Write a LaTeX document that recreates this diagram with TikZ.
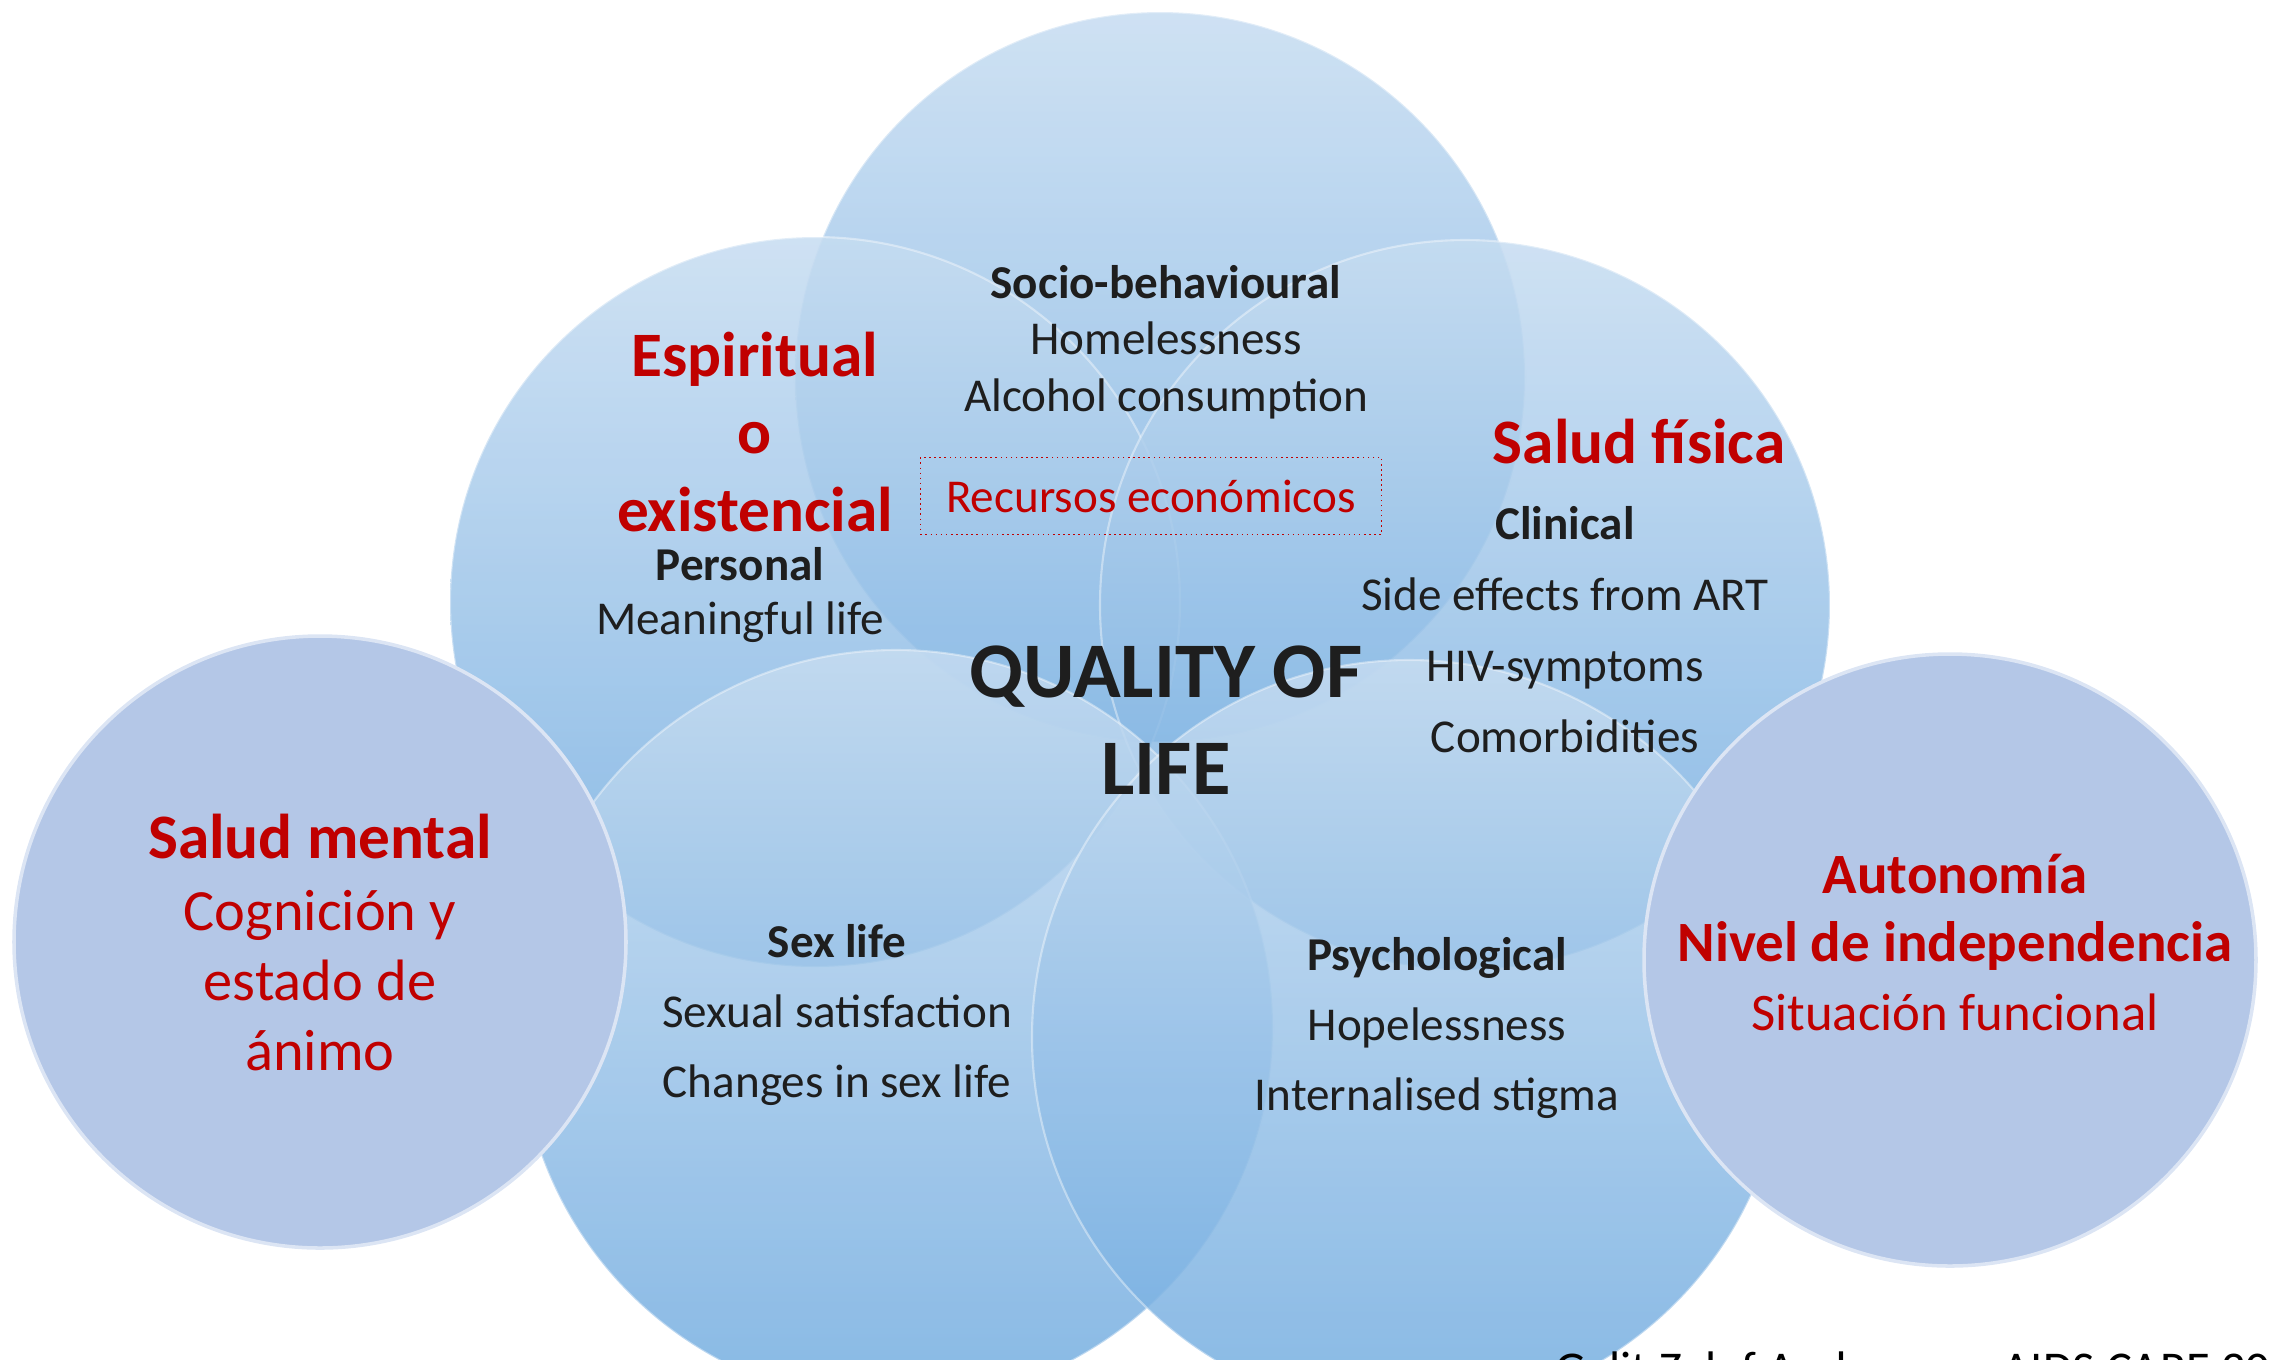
\documentclass[tikz,border=0pt]{standalone}
\usepackage{fontspec}
\setmainfont{Carlito}
\definecolor{qolred}{HTML}{C00000}
\definecolor{qolink}{HTML}{1E1E1E}
\definecolor{bubbletop}{HTML}{C6DCF1}
\definecolor{bubblebot}{HTML}{72ACE0}
\definecolor{sidefill}{HTML}{B4C7E7}
\definecolor{sideedge}{HTML}{DCE5F4}
\tikzset{
  bubble/.style={top color=bubbletop, bottom color=bubblebot, fill opacity=0.85, draw=white, draw opacity=0.4, line width=0.6pt},
  sidebubble/.style={fill=sidefill, draw=sideedge, line width=1pt},
  item/.style={text=qolink, align=center, inner sep=0pt},
  redhead/.style={text=qolred, align=center, inner sep=0pt, font=\bfseries\fontsize{18}{22}\selectfont}
}
\begin{document}
\begin{tikzpicture}[x=0.01cm, y=-0.01cm]
  \clip (0,0) rectangle (2274,1359);
  \coordinate (social) at (1160,377);
  \coordinate (personal) at (815,602);
  \coordinate (clinical) at (1465,605);
  \coordinate (sex) at (896,1027);
  \coordinate (psych) at (1409,1037);
  \coordinate (mental) at (320,942);
  \coordinate (auto) at (1950,960);

  \shade[bubble] (social) circle[radius=365];
  \shade[bubble] (personal) circle[radius=365];
  \shade[bubble] (clinical) circle[radius=365];
  \shade[bubble] (sex) circle[radius=377];
  \shade[bubble] (psych) circle[radius=377];
  \draw[sidebubble] (mental) circle[radius=306];
  \draw[sidebubble] (auto) circle[radius=306];

  \node[item, font=\fontsize{13.4}{16.1}\selectfont] (socio) at (1166,342)
    {\textbf{Socio-behavioural}\\Homelessness\\Alcohol consumption};
  \node[draw=qolred, densely dotted, line width=0.45pt, text=qolred, font=\fontsize{13.4}{16}\selectfont,
    minimum width=4.61cm, minimum height=0.77cm] (recursos) at (1151,496) {Recursos económicos};
  \node[redhead] (spirit) at (755,432) {Espiritual\\o\\existencial};
  \node[item, font=\fontsize{13.4}{15.6}\selectfont] (meaning) at (740,595)
    {\textbf{Personal}\\Meaningful life};
  \node[redhead] (fisica) at (1639,442) {Salud física};
  \node[item, font=\fontsize{13.4}{20.2}\selectfont] (clin) at (1565,630)
    {\textbf{Clinical}\\Side effects from ART\\HIV-symptoms\\Comorbidities};
  \node[item, font=\bfseries\fontsize{22.4}{27.6}\selectfont] (qol) at (1166,720) {QUALITY OF\\LIFE};
  \node[item, font=\fontsize{13.4}{19.9}\selectfont] (sexlife) at (837,1015)
    {\textbf{Sex life}\\Sexual satisfaction\\Changes in sex life};
  \node[item, font=\fontsize{13.4}{19.9}\selectfont] (psycho) at (1437,1028)
    {\textbf{Psychological}\\Hopelessness\\Internalised stigma};
  \node[redhead] (saludmental) at (320,837) {Salud mental};
  \node[item, text=qolred, font=\fontsize{16.6}{19.9}\selectfont] (cognicion) at (320,981)
    {Cognición y\\estado de\\ánimo};
  \node[redhead, font=\bfseries\fontsize{16.2}{19.3}\selectfont] (autonomia) at (1955,912)
    {Autonomía\\Nivel de independencia};
  \node[item, text=qolred, font=\fontsize{15}{18}\selectfont] (funcional) at (1955,1012) {Situación funcional};
  \node[anchor=base west, inner sep=0pt, text=black, font=\fontsize{13.8}{16}\selectfont] (credit) at (1555,1385)
    {Galit Zeluf Andersson. AIDS CARE 2019};
\end{tikzpicture}
\end{document}
